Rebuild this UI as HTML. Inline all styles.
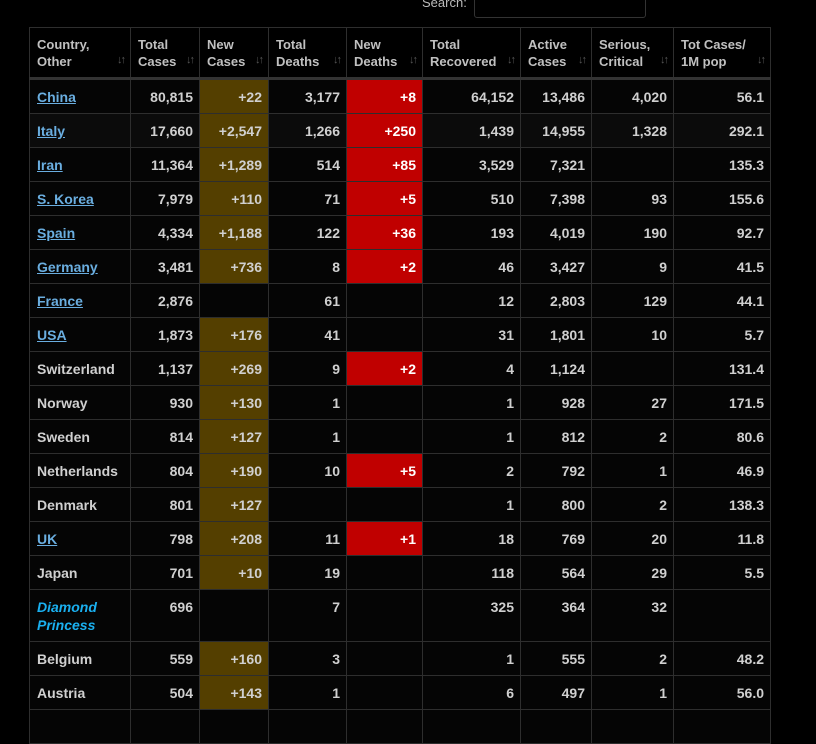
<!DOCTYPE html>
<html><head><meta charset="utf-8"><style>
html,body{margin:0;padding:0;background:#000;width:816px;height:720px;overflow:hidden;font-family:"Liberation Sans",sans-serif;}
.search{position:absolute;left:422px;top:-5px;color:#bbb;font-size:13px;}
.inp{position:absolute;left:474px;top:-4px;width:170px;height:20px;border:1px solid #333;border-radius:3px;}
table{position:absolute;left:29px;top:27px;border-collapse:collapse;table-layout:fixed;width:741px;}
td,th{border:1px solid #2e2e2e;padding:8px 6px 7px 7px;vertical-align:top;font-size:14px;line-height:18px;color:#d0d0d0;font-weight:bold;overflow:hidden;white-space:nowrap;}
th{text-align:left;font-size:13px;line-height:17px;color:#c0c0c0;padding:8px 6px 7px 7px;position:relative;border-bottom:3px solid #333;white-space:normal;}
th .s{position:absolute;right:6px;bottom:8px;color:#555;font-size:11px;letter-spacing:-2px;}
td{text-align:right;background:#050505;}
tr.o td{background:#0b0b0b;}
td:first-child{text-align:left;}
tr td.b{background:#543f00;}
tr td.r{background:#c00000;color:#fff;}
a{color:#6aaee0;text-decoration:underline;}
.dp{color:#1ab0f0;font-style:italic;}
</style></head><body>
<div class="search">Search:</div><div class="inp"></div>
<table>
<colgroup><col style="width:101px"><col style="width:69px"><col style="width:69px"><col style="width:78px"><col style="width:76px"><col style="width:98px"><col style="width:71px"><col style="width:82px"><col style="width:97px"></colgroup>
<tr><th>Country,<br>Other<span class="s">↓↑</span></th><th>Total<br>Cases<span class="s">↓↑</span></th><th>New<br>Cases<span class="s">↓↑</span></th><th>Total<br>Deaths<span class="s">↓↑</span></th><th>New<br>Deaths<span class="s">↓↑</span></th><th>Total<br>Recovered<span class="s">↓↑</span></th><th>Active<br>Cases<span class="s">↓↑</span></th><th>Serious,<br>Critical<span class="s">↓↑</span></th><th>Tot Cases/<br>1M pop<span class="s">↓↑</span></th></tr>
<tr><td><a>China</a></td><td>80,815</td><td class="b">+22</td><td>3,177</td><td class="r">+8</td><td>64,152</td><td>13,486</td><td>4,020</td><td>56.1</td></tr>
<tr class="o"><td><a>Italy</a></td><td>17,660</td><td class="b">+2,547</td><td>1,266</td><td class="r">+250</td><td>1,439</td><td>14,955</td><td>1,328</td><td>292.1</td></tr>
<tr><td><a>Iran</a></td><td>11,364</td><td class="b">+1,289</td><td>514</td><td class="r">+85</td><td>3,529</td><td>7,321</td><td></td><td>135.3</td></tr>
<tr><td><a>S. Korea</a></td><td>7,979</td><td class="b">+110</td><td>71</td><td class="r">+5</td><td>510</td><td>7,398</td><td>93</td><td>155.6</td></tr>
<tr><td><a>Spain</a></td><td>4,334</td><td class="b">+1,188</td><td>122</td><td class="r">+36</td><td>193</td><td>4,019</td><td>190</td><td>92.7</td></tr>
<tr><td><a>Germany</a></td><td>3,481</td><td class="b">+736</td><td>8</td><td class="r">+2</td><td>46</td><td>3,427</td><td>9</td><td>41.5</td></tr>
<tr><td><a>France</a></td><td>2,876</td><td></td><td>61</td><td></td><td>12</td><td>2,803</td><td>129</td><td>44.1</td></tr>
<tr><td><a>USA</a></td><td>1,873</td><td class="b">+176</td><td>41</td><td></td><td>31</td><td>1,801</td><td>10</td><td>5.7</td></tr>
<tr><td>Switzerland</td><td>1,137</td><td class="b">+269</td><td>9</td><td class="r">+2</td><td>4</td><td>1,124</td><td></td><td>131.4</td></tr>
<tr><td>Norway</td><td>930</td><td class="b">+130</td><td>1</td><td></td><td>1</td><td>928</td><td>27</td><td>171.5</td></tr>
<tr><td>Sweden</td><td>814</td><td class="b">+127</td><td>1</td><td></td><td>1</td><td>812</td><td>2</td><td>80.6</td></tr>
<tr><td>Netherlands</td><td>804</td><td class="b">+190</td><td>10</td><td class="r">+5</td><td>2</td><td>792</td><td>1</td><td>46.9</td></tr>
<tr><td>Denmark</td><td>801</td><td class="b">+127</td><td></td><td></td><td>1</td><td>800</td><td>2</td><td>138.3</td></tr>
<tr><td><a>UK</a></td><td>798</td><td class="b">+208</td><td>11</td><td class="r">+1</td><td>18</td><td>769</td><td>20</td><td>11.8</td></tr>
<tr><td>Japan</td><td>701</td><td class="b">+10</td><td>19</td><td></td><td>118</td><td>564</td><td>29</td><td>5.5</td></tr>
<tr><td style="white-space:normal" class="dp">Diamond<br>Princess</td><td>696</td><td></td><td>7</td><td></td><td>325</td><td>364</td><td>32</td><td></td></tr>
<tr><td>Belgium</td><td>559</td><td class="b">+160</td><td>3</td><td></td><td>1</td><td>555</td><td>2</td><td>48.2</td></tr>
<tr><td>Austria</td><td>504</td><td class="b">+143</td><td>1</td><td></td><td>6</td><td>497</td><td>1</td><td>56.0</td></tr>
<tr><td>&nbsp;</td><td></td><td></td><td></td><td></td><td></td><td></td><td></td><td></td></tr>
</table>
</body></html>
